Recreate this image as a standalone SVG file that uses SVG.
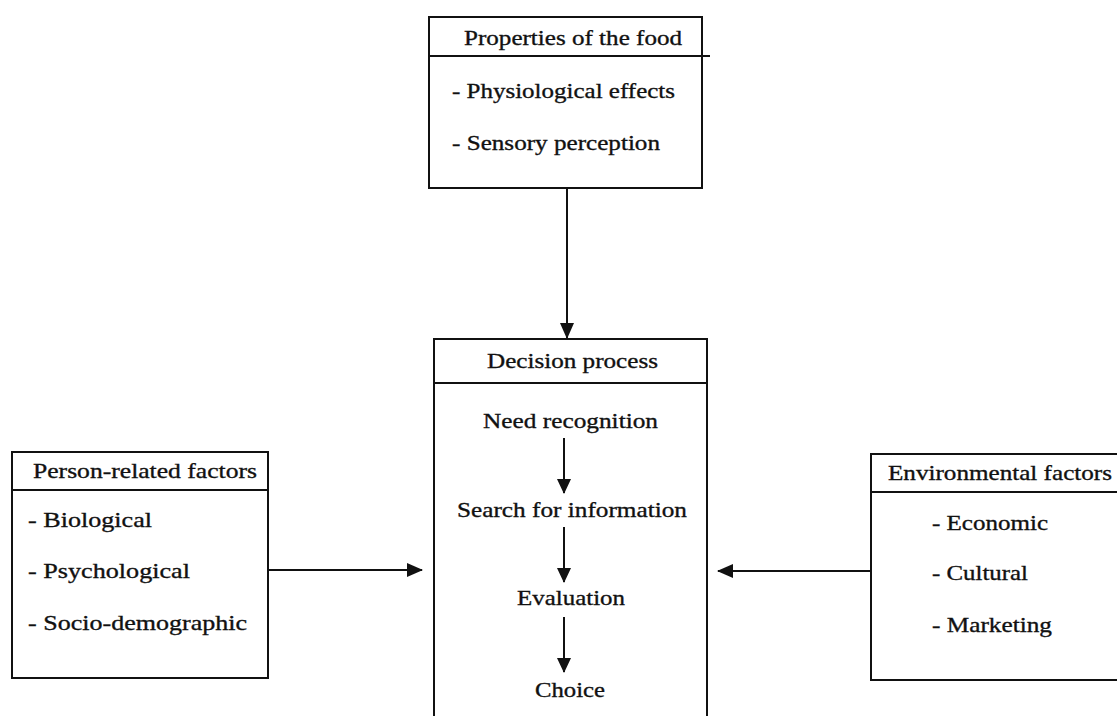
<svg xmlns="http://www.w3.org/2000/svg" width="1117" height="716" viewBox="0 0 1117 716">
<style>
.box{fill:#fff;stroke:#111;stroke-width:2}
.div{stroke:#111;stroke-width:2}
.t{font-family:"Liberation Serif","Times New Roman",serif;font-size:22px;fill:#111;stroke:#111;stroke-width:0.35}
.con{stroke:#111;stroke-width:2;fill:none}
</style>
<defs>
<marker id="ah" markerUnits="userSpaceOnUse" markerWidth="16" markerHeight="16" viewBox="0 0 16 16" refX="15" refY="8" orient="auto">
<path d="M0,1 L16,8 L0,15 Z" fill="#111"/>
</marker>
<marker id="ahs" markerUnits="userSpaceOnUse" markerWidth="15" markerHeight="15" viewBox="0 0 15 15" refX="14" refY="7.5" orient="auto">
<path d="M0,0.5 L15,7.5 L0,14.5 Z" fill="#111"/>
</marker>
</defs>
<rect width="1117" height="716" fill="#fff"/>
<g id="food">
<rect class="box" x="429" y="17" width="273" height="171"/>
<line class="div" x1="429" y1="56" x2="710" y2="56"/>
<text class="t" x="464" y="45" textLength="218" lengthAdjust="spacingAndGlyphs">Properties of the food</text>
<text class="t" x="452" y="98" textLength="223" lengthAdjust="spacingAndGlyphs">- Physiological effects</text>
<text class="t" x="452" y="150" textLength="208" lengthAdjust="spacingAndGlyphs">- Sensory perception</text>
</g>
<g id="decision">
<rect class="box" x="434" y="339" width="273" height="400"/>
<line class="div" x1="434" y1="383" x2="707" y2="383"/>
<text class="t" x="487" y="368" textLength="171" lengthAdjust="spacingAndGlyphs">Decision process</text>
<text class="t" x="483" y="428" textLength="175" lengthAdjust="spacingAndGlyphs">Need recognition</text>
<text class="t" x="457" y="517" textLength="230" lengthAdjust="spacingAndGlyphs">Search for information</text>
<text class="t" x="517" y="605" textLength="108" lengthAdjust="spacingAndGlyphs">Evaluation</text>
<text class="t" x="535" y="697" textLength="70" lengthAdjust="spacingAndGlyphs">Choice</text>
</g>
<g id="person">
<rect class="box" x="12" y="452" width="256" height="226"/>
<line class="div" x1="12" y1="490" x2="268" y2="490"/>
<text class="t" x="33" y="478" textLength="224" lengthAdjust="spacingAndGlyphs">Person-related factors</text>
<text class="t" x="28" y="527" textLength="124" lengthAdjust="spacingAndGlyphs">- Biological</text>
<text class="t" x="28" y="578" textLength="162" lengthAdjust="spacingAndGlyphs">- Psychological</text>
<text class="t" x="28" y="630" textLength="219" lengthAdjust="spacingAndGlyphs">- Socio-demographic</text>
</g>
<g id="environment">
<rect class="box" x="871" y="454" width="260" height="226"/>
<line class="div" x1="871" y1="492" x2="1117" y2="492"/>
<text class="t" x="888" y="480" textLength="224" lengthAdjust="spacingAndGlyphs">Environmental factors</text>
<text class="t" x="932" y="530" textLength="116" lengthAdjust="spacingAndGlyphs">- Economic</text>
<text class="t" x="932" y="580" textLength="96" lengthAdjust="spacingAndGlyphs">- Cultural</text>
<text class="t" x="932" y="632" textLength="120" lengthAdjust="spacingAndGlyphs">- Marketing</text>
</g>
<g id="connectors">
<line class="con" x1="567" y1="188" x2="567" y2="338" marker-end="url(#ah)"/>
<line class="con" x1="268" y1="570" x2="422" y2="570" marker-end="url(#ah)"/>
<line class="con" x1="871" y1="571" x2="718" y2="571" marker-end="url(#ah)"/>
<line class="con" x1="564" y1="438" x2="564" y2="493" marker-end="url(#ahs)"/>
<line class="con" x1="564" y1="527" x2="564" y2="582" marker-end="url(#ahs)"/>
<line class="con" x1="564" y1="617" x2="564" y2="672" marker-end="url(#ahs)"/>
</g>
</svg>
